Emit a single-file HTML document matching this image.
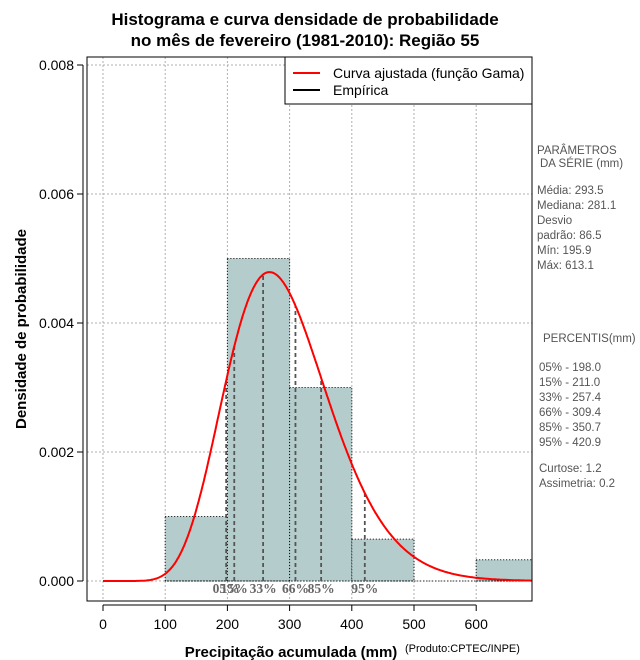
<!DOCTYPE html>
<html><head><meta charset="utf-8"><style>
body{margin:0;background:#fff;}
svg{display:block;font-family:"Liberation Sans",sans-serif;}
</style></head><body>
<svg id="chart" width="640" height="660" viewBox="0 0 640 660">
<text x="305" y="25" text-anchor="middle" font-size="17" font-weight="bold">Histograma e curva densidade de probabilidade</text>
<text x="305" y="46" text-anchor="middle" font-size="17" font-weight="bold">no mês de fevereiro (1981-2010): Região 55</text>
<g id="grid"></g>
<g id="bars"></g>
<g id="pct"></g>
<path id="curve" fill="none" stroke="#ff0000" stroke-width="2"/>
<rect x="87" y="57" width="445" height="544" fill="none" stroke="#000" stroke-width="1"/>
<g id="axes"></g>
<text x="291" y="657" text-anchor="middle" font-size="15" font-weight="bold">Precipitação acumulada (mm)</text>
<text x="405" y="652" font-size="11">(Produto:CPTEC/INPE)</text>
<text transform="translate(26,329) rotate(-90)" text-anchor="middle" font-size="15" font-weight="bold">Densidade de probabilidade</text>
<g>
<rect x="285" y="57" width="247" height="47" fill="#fff" stroke="#000"/>
<line x1="293" y1="73" x2="320" y2="73" stroke="#ff0000" stroke-width="2"/>
<text x="333" y="78" font-size="14">Curva ajustada (função Gama)</text>
<line x1="293" y1="90" x2="320" y2="90" stroke="#000" stroke-width="2"/>
<text x="333" y="95" font-size="14">Empírica</text>
</g>
<g font-size="11.5" fill="#555">
<text x="537" y="154">PARÂMETROS</text>
<text x="540" y="167">DA SÉRIE (mm)</text>
<text x="537" y="194">Média:  293.5</text>
<text x="537" y="209">Mediana:  281.1</text>
<text x="537" y="224">Desvio</text>
<text x="537" y="239">padrão:  86.5</text>
<text x="537" y="254">Mín:  195.9</text>
<text x="537" y="269">Máx:  613.1</text>
<text x="543" y="342">PERCENTIS(mm)</text>
<text x="539" y="371">05% -  198.0</text>
<text x="539" y="386">15% -  211.0</text>
<text x="539" y="401">33% -  257.4</text>
<text x="539" y="416">66% -  309.4</text>
<text x="539" y="431">85% -  350.7</text>
<text x="539" y="446">95% -  420.9</text>
<text x="539" y="472">Curtose:  1.2</text>
<text x="539" y="487">Assimetria:  0.2</text>
</g>
</svg>
<script>
const binStarts=[100,200,300,400,500,600];
const binDensity=[0.001,0.005,0.003,0.00065,0,0.00033];
const binWidth=[100];
const gammaParams=[11.5,25.5]; // shape, scale of fitted gamma
const pctValues=[198.0,211.0,257.4,309.4,350.7,420.9];
const pctLabels=["05%","15%","33%","66%","85%","95%"];
const xTicks=[0,100,200,300,400,500,600];
const yTicks=[0,0.002,0.004,0.006,0.008];
const yTickLabels=["0.000","0.002","0.004","0.006","0.008"];

const X0=87,X1=532,Y0=57,Y1=601;
const xs=v=>103+v*0.622;
const ys=v=>581-v*64500;
const NS="http://www.w3.org/2000/svg";
function mk(tag,attrs,parent){const e=document.createElementNS(NS,tag);for(const k in attrs)e.setAttribute(k,attrs[k]);parent.appendChild(e);return e;}
function lgamma(z){const g=7,c=[0.99999999999980993,676.5203681218851,-1259.1392167224028,771.32342877765313,-176.61503916999185,12.507343278686905,-0.13857109526572012,9.9843695780195716e-6,1.5056327351493116e-7];z-=1;let a=c[0];const t=z+g+0.5;for(let i=1;i<9;i++)a+=c[i]/(z+i);return 0.5*Math.log(2*Math.PI)+(z+0.5)*Math.log(t)-t+Math.log(a);}
function gpdf(x){const k=gammaParams[0],th=gammaParams[1];if(x<=0)return 0;return Math.exp((k-1)*Math.log(x)-x/th-lgamma(k)-k*Math.log(th));}

const grid=document.getElementById('grid');
xTicks.forEach(t=>{const l=mk('line',{x1:xs(t),x2:xs(t),y1:Y0,y2:Y1,stroke:'#b0b0b0','stroke-dasharray':'2,2'},grid);

});
yTicks.forEach(t=>{const l=mk('line',{x1:X0,x2:X1,y1:ys(t),y2:ys(t),stroke:'#b0b0b0','stroke-dasharray':'2,2'},grid);

});

const bars=document.getElementById('bars');
binStarts.forEach((b,i)=>{if(binDensity[i]<=0)return;
const x=xs(b),w=Math.min(xs(b+binWidth[0]),X1)-x;
const r=mk('rect',{x:x,y:ys(binDensity[i]),width:w,height:ys(0)-ys(binDensity[i]),fill:'#b4cccc',stroke:'#000','stroke-dasharray':'1,2'},bars);

});
const bl=mk('line',{x1:xs(100),x2:X1,y1:ys(0),y2:ys(0),stroke:'#000','stroke-dasharray':'1,2'},bars);



const pct=document.getElementById('pct');
pctValues.forEach((v,i)=>{
const l=mk('line',{x1:xs(v),x2:xs(v),y1:ys(0),y2:ys(gpdf(v)),stroke:'#555','stroke-width':1.8,'stroke-dasharray':'4,3'},pct);


const t=mk('text',{x:xs(v),y:593,'text-anchor':'middle','font-size':13.5,'font-weight':'bold',fill:'#666','font-family':'Liberation Serif, serif'},pct);
t.textContent=pctLabels[i];

});

let d='';for(let v=0;v<=690;v+=2){d+=(v?'L':'M')+xs(v).toFixed(1)+','+ys(gpdf(v)).toFixed(1);}
document.getElementById('curve').setAttribute('d',d);

const ax=document.getElementById('axes');
mk('line',{x1:xs(0),x2:xs(600),y1:605,y2:605,stroke:'#000'},ax);
xTicks.forEach(t=>{mk('line',{x1:xs(t),x2:xs(t),y1:605,y2:611,stroke:'#000'},ax);
const tx=mk('text',{x:xs(t),y:629,'text-anchor':'middle','font-size':14},ax);tx.textContent=t;

});
mk('line',{x1:83,x2:83,y1:ys(0),y2:ys(0.008),stroke:'#000'},ax);
yTicks.forEach((t,i)=>{mk('line',{x1:77,x2:83,y1:ys(t),y2:ys(t),stroke:'#000'},ax);
const tx=mk('text',{x:74,y:ys(t)+5,'text-anchor':'end','font-size':14},ax);tx.textContent=yTickLabels[i];

});
</script>
</body></html>
